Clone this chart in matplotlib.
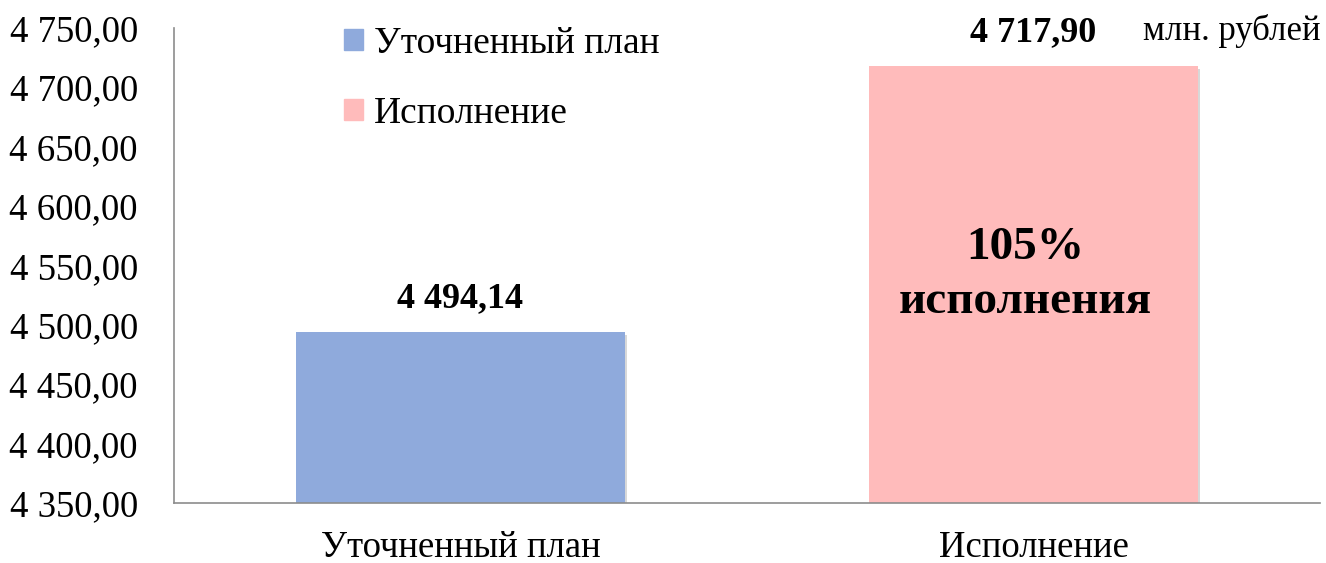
import matplotlib.pyplot as plt
import matplotlib.patheffects as pe
from matplotlib.patches import Patch
from matplotlib.ticker import FuncFormatter, MultipleLocator

categories = ["Уточненный план", "Исполнение"]
values = [4494.14, 4717.90]
value_labels = ["4 494,14", "4 717,90"]
colors = ["#8FAADC", "#FFBBBB"]
percent_text = "105%\nисполнения"
unit_text = "млн. рублей"

plt.rcParams['font.family'] = ['Liberation Serif', 'DejaVu Serif']

fig = plt.figure(figsize=(13.26, 5.63), dpi=100, facecolor='white')
ax = fig.add_axes([0.1312, 0.1066, 0.8643, 0.8437])

shadow = [pe.SimplePatchShadow(offset=(2, -2), alpha=0.25, shadow_rgbFace='#666666'),
          pe.Normal()]
for i, (val, col) in enumerate(zip(values, colors)):
    ax.bar(i, val - 4350, bottom=4350, width=0.573, color=col,
           path_effects=shadow, zorder=2)
    ax.text(i, val + 14, value_labels[i], ha='center', va='bottom',
            fontsize=26, fontweight='bold')

ax.text(0.985, 4542, percent_text, ha='center', va='center',
        fontsize=34, fontweight='bold', linespacing=1.35)

ax.set_xlim(-0.5, 1.5)
ax.set_ylim(4350, 4750)
ax.yaxis.set_major_locator(MultipleLocator(50))
ax.yaxis.set_major_formatter(FuncFormatter(
    lambda v, p: f"{int(v) // 1000} {int(v) % 1000:03d},00"))
ax.set_xticks(range(len(categories)))
ax.set_xticklabels(categories)
ax.tick_params(axis='both', length=0, labelsize=26.5)
ax.tick_params(axis='y', pad=26)
ax.tick_params(axis='x', pad=20)
for s in ('top', 'right'):
    ax.spines[s].set_visible(False)
for s in ('left', 'bottom'):
    ax.spines[s].set_color('#8c8c8c')
    ax.spines[s].set_linewidth(1.2)

handles = [Patch(color=c, label=l) for c, l in zip(colors, categories)]
fig.legend(handles=handles, loc='upper left', bbox_to_anchor=(0.234, 1.013),
           frameon=False, fontsize=27, handlelength=0.5, handleheight=0.5,
           handletextpad=0.3, labelspacing=0.95)

fig.text(0.996, 0.975, unit_text, ha='right', va='top', fontsize=25)

fig.savefig("out.png", dpi=100, facecolor='white')
